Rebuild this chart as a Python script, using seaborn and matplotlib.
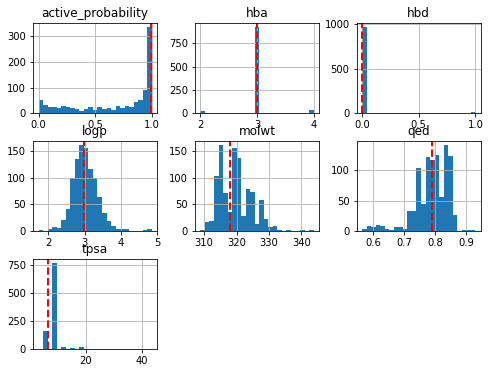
import numpy as np
import pandas as pd
import matplotlib
matplotlib.use("Agg")
import matplotlib.pyplot as plt
from matplotlib.ticker import MultipleLocator
import seaborn as sns

columns = ["active_probability", "hba", "hbd", "logp", "molwt", "qed", "tpsa"]

# data range (min, max) of each column and 25-bin histogram counts
ranges = {
    "active_probability": (0.0, 1.0),
    "hba": (2.0, 4.0),
    "hbd": (0.0, 1.0),
    "logp": (1.735, 4.845),
    "molwt": (308.85, 343.75),
    "qed": (0.5635, 0.929),
    "tpsa": (3.1, 43.6),
}

counts_active = [51, 32, 26, 26, 22, 28, 24, 20, 19, 10, 17, 24, 14, 24, 19,
                 21, 14, 28, 21, 28, 24, 44, 51, 90, 332]
counts_hba = [22, 0, 0, 0, 0, 0, 0, 0, 0, 0, 0, 0, 922, 0, 0, 0, 0, 0, 0, 0,
              0, 0, 0, 0, 36]
counts_hbd = [965, 0, 0, 0, 0, 0, 0, 0, 0, 0, 0, 0, 0, 0, 0, 0, 0, 0, 0, 0,
              0, 0, 0, 0, 12]
counts_logp = [2, 0, 5, 8, 6, 21, 41, 100, 134, 160, 154, 116, 100, 64, 34,
               19, 10, 5, 4, 4, 0, 0, 0, 2, 4]
counts_molwt = [2, 17, 19, 102, 160, 72, 36, 155, 136, 28, 78, 73, 14, 58, 23,
                8, 10, 2, 0, 2, 0, 0, 2, 0, 2]
counts_qed = [4, 8, 7, 10, 8, 4, 2, 7, 7, 3, 34, 34, 103, 44, 122, 117, 125,
              56, 141, 123, 27, 0, 2, 2, 2]
counts_tpsa = [1, 165, 0, 771, 0, 20, 0, 10, 0, 18, 0, 0, 0, 0, 0, 0, 0, 0, 0,
               0, 0, 0, 0, 0, 1]

counts = {
    "active_probability": counts_active,
    "hba": counts_hba,
    "hbd": counts_hbd,
    "logp": counts_logp,
    "molwt": counts_molwt,
    "qed": counts_qed,
    "tpsa": counts_tpsa,
}

# reference values marked with red dashed lines
ref_values = [0.99, 3.0, 0.0, 2.98, 318.0, 0.789, 6.47]

fig, axes = plt.subplots(3, 3, figsize=(489 / 72, 373 / 72), dpi=72)
fig.subplots_adjust(left=0.0675, right=0.9836, top=0.938, bottom=0.064,
                    wspace=0.30, hspace=0.305)

for i, col in enumerate(columns):
    ax = axes.flat[i]
    lo, hi = ranges[col]
    c = np.asarray(counts[col], dtype=float)
    edges = np.linspace(lo, hi, len(c) + 1)
    centers = (edges[:-1] + edges[1:]) / 2
    df = pd.DataFrame({"x": centers, "w": c})
    sns.histplot(data=df, x="x", weights="w", bins=[float(e) for e in edges],
                 ax=ax, color="#1f77b4", alpha=1, linewidth=0)
    ax.axvline(ref_values[i], color="red", linestyle="--", linewidth=2)
    ax.grid(True)
    ax.set_title(col)
    ax.set_xlabel("")
    ax.set_ylabel("")
    if col == "qed":
        ax.xaxis.set_major_locator(MultipleLocator(0.1))

for j in range(len(columns), 9):
    axes.flat[j].set_visible(False)

fig.savefig("out.png", dpi=72)
